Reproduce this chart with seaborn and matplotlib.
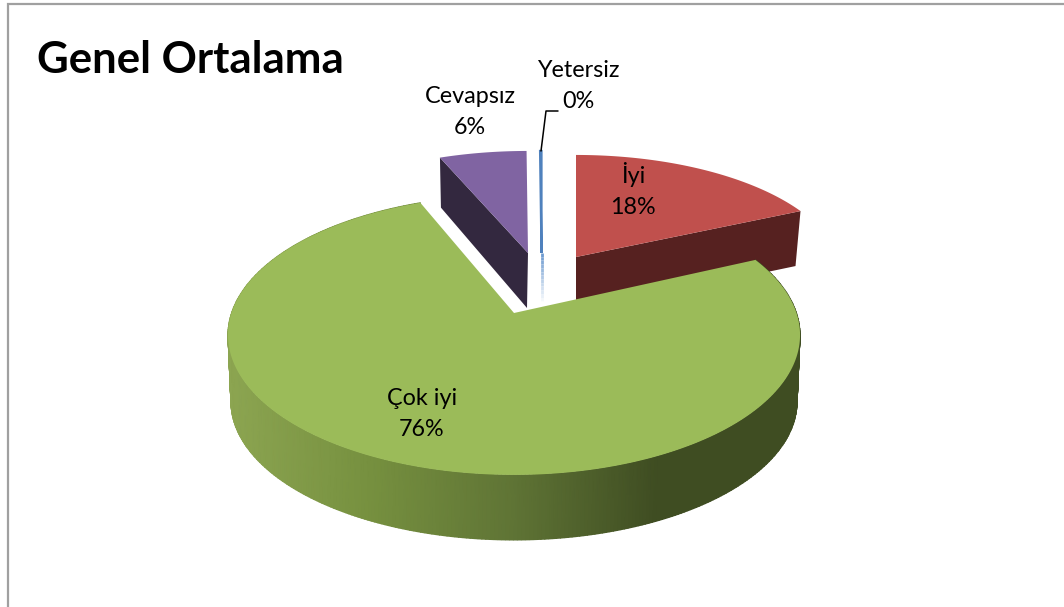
import numpy as np
import matplotlib.pyplot as plt
from matplotlib.patches import Polygon, Rectangle
import seaborn as sns

categories = ['İyi', 'Çok iyi', 'Cevapsız', 'Yetersiz']
values = [18.2, 75.6, 6.1, 0.1]

sns.set_theme(style='white')
plt.rcParams['font.family'] = ['Lato', 'DejaVu Sans']

# pie shape: perspective of the disc, in pixels of the picture
RX, RY, K = 282.5, 136.5, 0.157
# slice: apex x, apex y, x scale, y scale, wall height
layout = {
    'İyi':      (576, 257, 0.93, 0.865, 55),
    'Çok iyi':  (514, 313, 1.0, 1.0, 67),
    'Cevapsız': (528, 253, 0.94, 0.865, 55),
    'Yetersiz': (541.5, 253, 0.94, 0.865, 52),
}
top_colors = {'İyi': '#C0504D', 'Çok iyi': '#9BBB59', 'Cevapsız': '#8064A2', 'Yetersiz': '#4F81BD'}
wall_colors = {'İyi': '#562120', 'Cevapsız': '#33283F'}
label_pos = {'İyi': (633, 190), 'Çok iyi': (422, 414), 'Cevapsız': (470, 112), 'Yetersiz': (578, 86)}

green_wall = sns.blend_palette(['#8CA551', '#76903F', '#5F7435', '#3F4D22', '#3F4D22'], as_cmap=True)


def disc(name, angle, scale=1.0):
    # angle in degrees clockwise from the top of the pie
    ax0, ay0, sx, sy, _ = layout[name]
    t = np.radians(angle)
    u, v = scale * np.sin(t), scale * np.cos(t)
    w = 1 + K * v
    return ax0 + sx * RX * u / w, ay0 - sy * RY * v / w


def arc(name, a0, a1, n=120, scale=1.0):
    return np.array([disc(name, a, scale) for a in np.linspace(a0, a1, n)])


fig = plt.figure(figsize=(10.64, 6.07), dpi=100)
ax = fig.add_axes([0, 0, 1, 1])
ax.set_xlim(0, 1064)
ax.set_ylim(607, 0)
ax.axis('off')

# chart frame, runs off the right and bottom of the picture
ax.add_patch(Rectangle((7.5, 4), 1100, 700, fc='white', ec='#A0A0A0', lw=1.6))

edges = np.cumsum([0] + values) * 3.6
spans = {c: (edges[i], edges[i + 1]) for i, c in enumerate(categories)}

# red slice: the cut face at its end angle, then the top
a0, a1 = spans['İyi']
x0, y0, _, _, h = layout['İyi']
cx, cy = disc('İyi', a1)
ax.add_patch(Polygon([(x0, y0), (cx, cy), (cx - 5, cy + h), (x0, y0 + h)], fc=wall_colors['İyi'], ec='none', zorder=2))
pts = arc('İyi', a0, a1)
ax.add_patch(Polygon(np.vstack([[x0, y0], pts]), fc=top_colors['İyi'], ec='none', zorder=3))

# purple slice: the cut face at its start angle, then the top
a0, a1 = spans['Cevapsız']
x0, y0, _, _, h = layout['Cevapsız']
cx, cy = disc('Cevapsız', a0)
ax.add_patch(Polygon([(x0, y0), (cx, cy), (cx + 1, cy + h - 5), (x0 - 1, y0 + h)], fc=wall_colors['Cevapsız'], ec='none', zorder=2))
pts = arc('Cevapsız', a0, a1)
ax.add_patch(Polygon(np.vstack([[x0, y0], pts]), fc=top_colors['Cevapsız'], ec='none', zorder=3))

# blue sliver: thin top face, wall fades out towards the bottom
a0, a1 = spans['Yetersiz']
x0, y0, _, _, h = layout['Yetersiz']
pts = arc('Yetersiz', a0, a1, 5)
ax.add_patch(Polygon(np.vstack([[x0, y0], pts]), fc=top_colors['Yetersiz'], ec=top_colors['Yetersiz'], lw=1.6, zorder=3))
fade = sns.blend_palette(['#6E9BD0', '#FFFFFF'], 14)
for i, col in enumerate(fade):
    ax.plot([x0, x0], [y0 + i * h / 14, y0 + (i + 1) * h / 14], color=col, lw=2, solid_capstyle='butt', zorder=2)

# green slice: outer wall as one shaded band, then the top
a0, a1 = spans['Çok iyi']
x0, y0, _, _, h = layout['Çok iyi']
upper = arc('Çok iyi', a0, a1, 400)
lower = arc('Çok iyi', a0, a1, 400, 0.99)
wall_x = np.vstack([upper[:, 0], lower[:, 0]])
wall_y = np.vstack([upper[:, 1], lower[:, 1] + h])
ax.pcolormesh(wall_x, wall_y, wall_x, shading='gouraud', cmap=green_wall, vmin=228, vmax=800, zorder=4)
ax.add_patch(Polygon(np.vstack([[x0, y0], upper]), fc=top_colors['Çok iyi'], ec='none', zorder=5))

# leader line of the 0% label
ax.plot([541, 546, 558], [151, 111, 111], color='black', lw=1.1, zorder=6)

for name, val in zip(categories, values):
    lx, ly = label_pos[name]
    ax.text(lx, ly, f'{name}\n{round(val)}%', ha='center', va='center', fontsize=16.8,
            linespacing=1.55, color='black', zorder=7)

ax.text(37, 60, 'Genel Ortalama', ha='left', va='center', fontsize=31.5, fontweight='bold',
        color='black', zorder=7)

ax.set_xlim(0, 1064)
ax.set_ylim(607, 0)
plt.savefig('out.png', dpi=100)
plt.close()
